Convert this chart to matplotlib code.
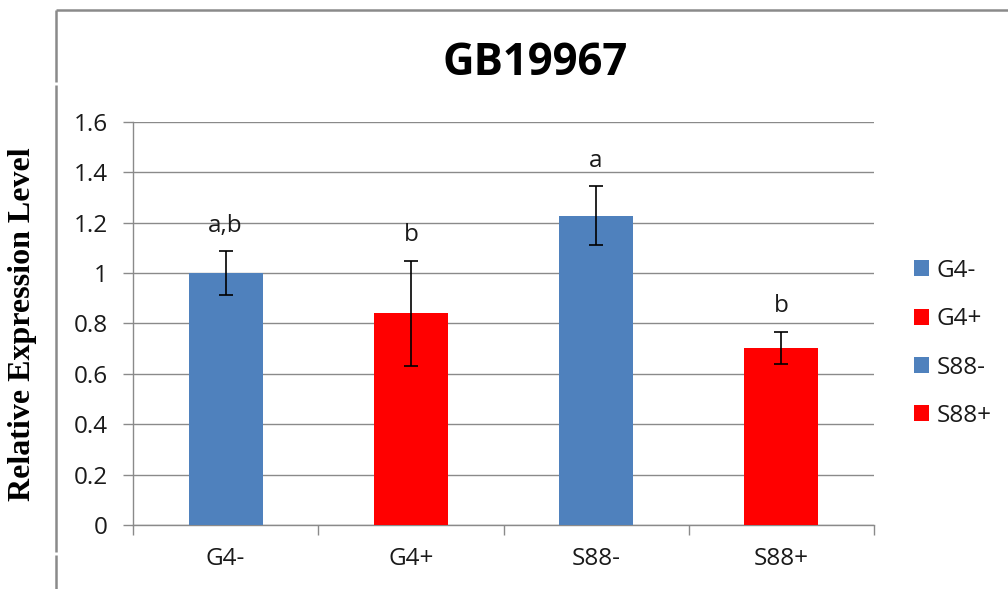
import matplotlib
matplotlib.use("Agg")
import matplotlib.pyplot as plt
from matplotlib.lines import Line2D

# Relative expression of GB19967 per group, mean +/- error
groups = ["G4-", "G4+", "S88-", "S88+"]
means = [1.00, 0.84, 1.227, 0.702]
errors = [0.087, 0.208, 0.116, 0.064]
letters = ["a,b", "b", "a", "b"]
colors = ["#4F81BD", "#FF0000", "#4F81BD", "#FF0000"]
yticks = [0, 0.2, 0.4, 0.6, 0.8, 1.0, 1.2, 1.4, 1.6]
ytick_labels = ["0", "0.2", "0.4", "0.6", "0.8", "1", "1.2", "1.4", "1.6"]

SANS = ["Open Sans", "DejaVu Sans"]
GREY = "#8a8a8a"
TXT = "#1a1a1a"
FS = 17.5

plt.rcParams["font.family"] = SANS

fig = plt.figure(figsize=(10.08, 5.89), dpi=100)
ax = fig.add_axes([133 / 1008, 1 - 525 / 589, (874 - 133) / 1008, (525 - 121.7) / 589])

for i, (g, m, e, c) in enumerate(zip(groups, means, errors, colors)):
    ax.bar(i, m, width=0.4, color=c, label=g, zorder=3)
    ax.errorbar(i, m, yerr=e, fmt="none", ecolor="black", elinewidth=1.2,
                capsize=4.8, capthick=1.2, zorder=4)
    ax.annotate(letters[i], (i, m + e), xytext=(0, 14), textcoords="offset points",
                ha="center", va="baseline", fontsize=FS, color=TXT)

ax.set_xlim(-0.5, 3.5)
ax.set_ylim(0, 1.6)
ax.set_yticks(yticks)
ax.set_yticklabels(ytick_labels)
ax.set_xticks(range(len(groups)))
ax.set_xticklabels(groups)
ax.set_xticks([-0.5, 0.5, 1.5, 2.5, 3.5], minor=True)
ax.tick_params(axis="x", which="major", length=0, pad=16, labelsize=FS, labelcolor=TXT)
ax.tick_params(axis="x", which="minor", length=7.2, width=1, color=GREY, direction="out")
ax.tick_params(axis="y", length=7.2, width=1, color=GREY, pad=11, labelsize=FS,
               labelcolor=TXT)
ax.grid(True, axis="y", color=GREY, lw=1, zorder=0)
for side in ("top", "right"):
    ax.spines[side].set_visible(False)
for side in ("left", "bottom"):
    ax.spines[side].set_color(GREY)
    ax.spines[side].set_linewidth(1)

fig.text(535 / 1008, 1 - 75 / 589, "GB19967", ha="center", va="baseline",
         fontsize=31.5, fontweight="bold", color="black")
fig.text(23 / 1008, 1 - 324 / 589, "Relative Expression Level", rotation=90,
         ha="center", va="center", fontsize=23, fontweight="bold",
         family=["Liberation Serif", "DejaVu Serif"], color="black")

fig.legend(loc="upper left", bbox_to_anchor=(914 / 1008, 1 - 259 / 589),
           frameon=False, fontsize=FS, handlelength=0.63, handleheight=0.63,
           handletextpad=0.3, labelspacing=1.0, borderpad=0, borderaxespad=0,
           labelcolor=TXT)

# outer chart frame: top edge and broken left edge
frame = dict(color=GREY, lw=1.8, solid_capstyle="butt")
fig.add_artist(Line2D([56 / 1008, 1], [1 - 9.5 / 589] * 2, **frame))
for y0, y1 in [(9.5, 82), (85, 552), (555, 589)]:
    fig.add_artist(Line2D([56 / 1008] * 2, [1 - y0 / 589, 1 - y1 / 589], **frame))

fig.savefig("out.png", dpi=100)
